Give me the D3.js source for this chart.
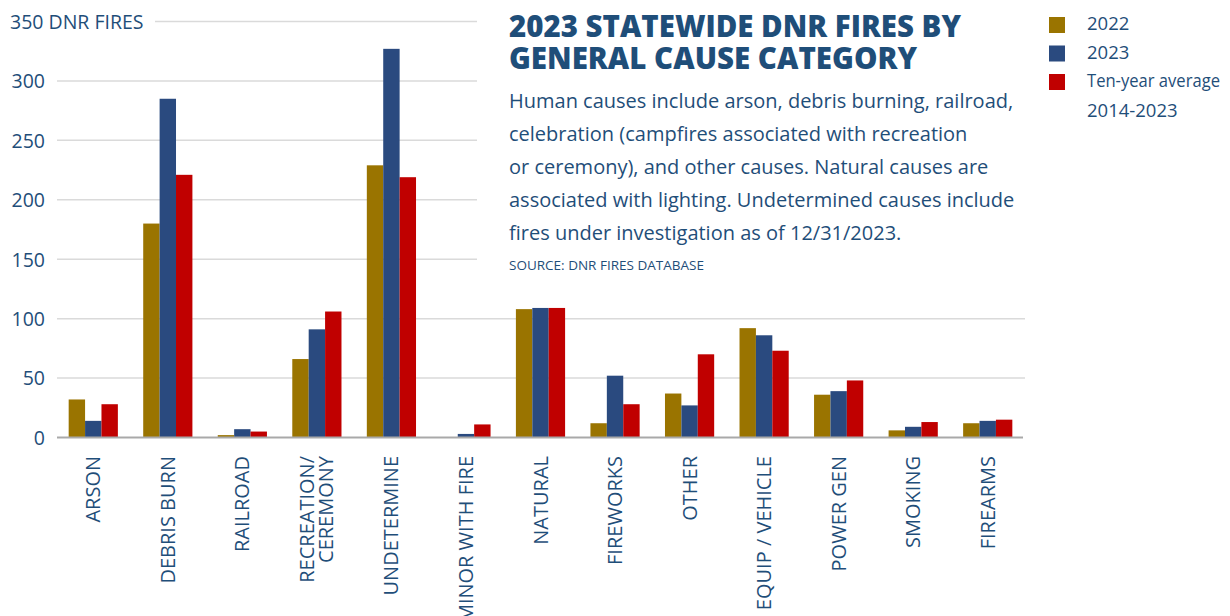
<!DOCTYPE html>
<html>
<head>
<meta charset="utf-8">
<script src="https://cdn.jsdelivr.net/npm/d3@7"></script>
<style>
  body { margin: 0; background: #fff; }
  text { font-family: "Open Sans", "Noto Sans", sans-serif; fill: #1f4e79; }
</style>
</head>
<body>
<div id="chart"></div>
<script>
// data
var categories = ["ARSON", "DEBRIS BURN", "RAILROAD", "RECREATION/|CEREMONY", "UNDETERMINE",
  "MINOR WITH FIRE", "NATURAL", "FIREWORKS", "OTHER", "EQUIP / VEHICLE", "POWER GEN", "SMOKING", "FIREARMS"];
var fires2022 = [32, 180, 2, 66, 229, 0, 108, 12, 37, 92, 36, 6, 12];
var fires2023 = [14, 285, 7, 91, 327, 3, 109, 52, 27, 86, 39, 9, 14];
var tenYearAvg = [28, 221, 5, 106, 219, 11, 109, 28, 70, 73, 48, 13, 15];
var seriesNames = ["2022", "2023", "Ten-year average|2014-2023"];
var seriesColors = ["#9a7400", "#2a4a7f", "#c00000"];
var yTicks = [0, 50, 100, 150, 200, 250, 300, 350];

var titleLines = ["2023 STATEWIDE DNR FIRES BY", "GENERAL CAUSE CATEGORY"];
var noteLines = [
  "Human causes include arson, debris burning, railroad,",
  "celebration (campfires associated with recreation",
  "or ceremony), and other causes. Natural causes are",
  "associated with lighting. Undetermined causes include",
  "fires under investigation as of 12/31/2023."
];
var sourceText = "SOURCE: DNR FIRES DATABASE";

var width = 1230,
  height = 616;

var svg = d3.select("#chart")
  .append("svg")
  .attr("width", width)
  .attr("height", height)

var series = [fires2022, fires2023, tenYearAvg];
var rows = categories.map(function(c, i) {
  return { cat: c, values: series.map(function(s, j) { return { key: j, value: s[i] }; }) };
});

var x0 = d3.scaleBand().domain(categories).range([56, 1025]).paddingInner(0.34).paddingOuter(0.17);
var x1 = d3.scaleBand().domain([0, 1, 2]).range([0, x0.bandwidth()]);
var y = d3.scaleLinear().domain([0, 350]).range([437.5, 21.5]);

// gridlines
svg.append("g")
  .selectAll("line")
  .data(yTicks.filter(function(t) { return t > 0; }))
  .enter().append("line")
  .attr("x1", function(d) { return d === 350 ? 155 : 57; })
  .attr("x2", 1025)
  .attr("y1", function(d) { return y(d); })
  .attr("y2", function(d) { return y(d); })
  .attr("stroke", "#dadada")
  .attr("stroke-width", 1.5)

// white box behind the title text
svg.append("rect")
  .attr("x", 477).attr("y", 0)
  .attr("width", 560).attr("height", 298)
  .attr("fill", "#fff")

// y axis labels
var yAxis = d3.axisLeft(y).tickValues(yTicks).tickSize(0).tickPadding(0)
  .tickFormat(function(d) { return d === 350 ? "350 DNR FIRES" : d; });
var yg = svg.append("g").attr("transform", "translate(45,0)").call(yAxis);
yg.select(".domain").remove();
yg.selectAll("text")
  .style("font-size", "19.5px")
  .attr("fill", "#1f4e79")
  .attr("dy", "0.35em")
  .filter(function(d) { return d === 350; })
  .attr("text-anchor", "start")
  .attr("x", -35)

// bars
var groups = svg.selectAll(".grp")
  .data(rows)
  .enter().append("g")
  .attr("class", "grp")
  .attr("transform", function(d) { return "translate(" + x0(d.cat) + ",0)"; })

groups.selectAll("rect")
  .data(function(d) { return d.values; })
  .enter().append("rect")
  .attr("x", function(d) { return x1(d.key); })
  .attr("width", x1.bandwidth())
  .attr("y", function(d) { return y(d.value); })
  .attr("height", function(d) { return y(0) - y(d.value); })
  .attr("fill", function(d) { return seriesColors[d.key]; })

// baseline
svg.append("line")
  .attr("x1", 57).attr("x2", 1023)
  .attr("y1", y(0)).attr("y2", y(0))
  .attr("stroke", "#a9a9a9")
  .attr("stroke-width", 2)

// category labels, rotated
var xl = svg.selectAll(".xlab")
  .data(categories)
  .enter().append("text")
  .attr("class", "xlab")
  .attr("text-anchor", "end")
  .style("font-size", "20px")
  .attr("transform", function(d) {
    return "translate(" + (x0(d) + x0.bandwidth() / 2) + ",456) rotate(-90)";
  })

xl.each(function(d) {
  var parts = d.split("|");
  var t = d3.select(this);
  parts.forEach(function(p, i) {
    t.append("tspan")
      .attr("x", 0)
      .attr("y", (i - (parts.length - 1) / 2) * 19)
      .attr("dy", "0.35em")
      .text(p);
  });
})

// title
svg.selectAll(".title")
  .data(titleLines)
  .enter().append("text")
  .attr("class", "title")
  .attr("x", 509)
  .attr("y", function(d, i) { return 37 + i * 32; })
  .style("font-size", "30px")
  .style("font-weight", "800")
  .attr("fill", "#0c3a66")
  .attr("textLength", function(d, i) { return i === 0 ? 452 : 408; })
  .attr("lengthAdjust", "spacingAndGlyphs")
  .text(function(d) { return d; })

svg.selectAll(".note")
  .data(noteLines)
  .enter().append("text")
  .attr("class", "note")
  .attr("x", 509)
  .attr("y", function(d, i) { return 108 + i * 33; })
  .style("font-size", "20px")
  .text(function(d) { return d; })

svg.append("text")
  .attr("x", 509)
  .attr("y", 270)
  .style("font-size", "13.5px")
  .text(sourceText)

// legend
var leg = svg.selectAll(".leg")
  .data(seriesNames)
  .enter().append("g")
  .attr("class", "leg")
  .attr("transform", function(d, i) { return "translate(1049," + (17 + i * 28.5) + ")"; })

leg.append("rect")
  .attr("width", 16).attr("height", 16)
  .attr("fill", function(d, i) { return seriesColors[i]; })

leg.append("text")
  .attr("x", 38)
  .style("font-size", "18.5px")
  .each(function(d) {
    var t = d3.select(this);
    d.split("|").forEach(function(p, i) {
      var ts = t.append("tspan").attr("x", 38).attr("y", 13 + i * 30).text(p);
      if (p.length > 12) ts.attr("textLength", 133).attr("lengthAdjust", "spacingAndGlyphs");
    });
  })
</script>
</body>
</html>
